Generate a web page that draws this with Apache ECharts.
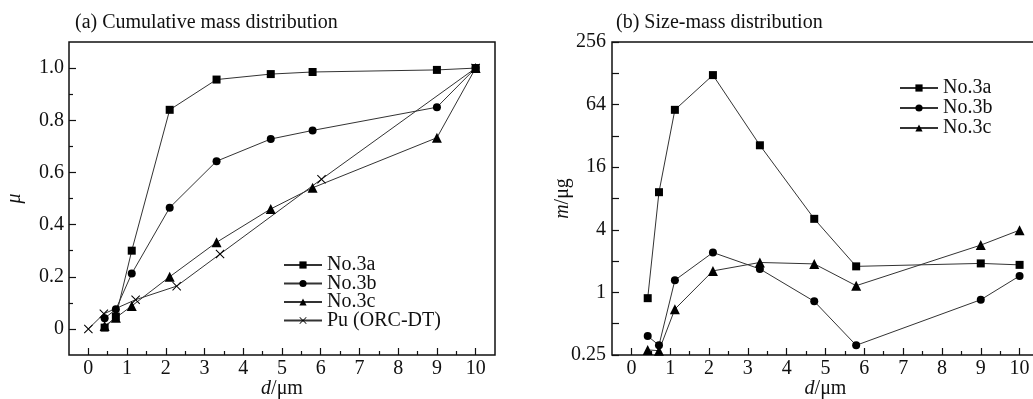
<!DOCTYPE html>
<html><head><meta charset="utf-8">
<script src="https://cdn.jsdelivr.net/npm/echarts@6/dist/echarts.min.js"></script>
<style>html,body{margin:0;padding:0;background:#fff}#c{width:1033px;height:399px}</style>
</head><body><div id="c"></div>
<script>
// ---- data ----
const sizes = [0.42, 0.71, 1.12, 2.1, 3.31, 4.71, 5.79, 9.0, 10.0];
const cumA = [0.005, 0.047, 0.30, 0.84, 0.956, 0.977, 0.985, 0.993, 1.0];
const cumB = [0.041, 0.075, 0.212, 0.465, 0.643, 0.728, 0.761, 0.85, 1.0];
const cumC = [0.011, 0.043, 0.088, 0.20, 0.332, 0.46, 0.541, 0.733, 1.0];
const puX = [0, 0.4, 1.22, 2.28, 3.4, 6.02, 10.0];
const puY = [0, 0.058, 0.112, 0.164, 0.287, 0.574, 1.0];
const massA = [0.88, 9.2, 57, 123, 26, 5.1, 1.78, 1.9, 1.84];
const massB = [0.38, 0.31, 1.31, 2.42, 1.68, 0.82, 0.31, 0.85, 1.44];
const massC = [0.28, 0.275, 0.69, 1.61, 1.94, 1.88, 1.16, 2.85, 3.97];
const xTickMajor = [0,1,2,3,4,5,6,7,8,9,10];
const xTickMinor = [0.5,1.5,2.5,3.5,4.5,5.5,6.5,7.5,8.5,9.5];
const yTicksA = [0, 0.2, 0.4, 0.6, 0.8, 1.0];
const yTicksAMinor = [0.1, 0.3, 0.5, 0.7, 0.9];
const yTicksB = [0.25, 1, 4, 16, 64, 256];
const yTicksBAll = [0.25, 0.5, 1, 2, 4, 8, 16, 32, 64, 128, 256];
const names = ['No.3a', 'No.3b', 'No.3c', 'Pu (ORC-DT)'];
const titleA = '(a) Cumulative mass distribution';
const titleB = '(b) Size-mass distribution';

const FONT = "'Liberation Serif','DejaVu Serif',serif";
const INK = '#111';
const pair = (xs, ys) => xs.map((x, i) => [x, ys[i]]);
const crossPath = 'path://M0,0.8L0.8,0L5,4.2L9.2,0L10,0.8L5.8,5L10,9.2L9.2,10L5,5.8L0.8,10L0,9.2L4.2,5Z';
const noLine = { show: false, onZero: false };

function xAxes(grid) {
  return [{
    gridIndex: grid, type: 'value', position: 'bottom', min: -0.5, max: 10.5, interval: 0.5,
    axisLine: noLine, splitLine: { show: false },
    axisTick: { inside: true, length: 7, customValues: xTickMajor, lineStyle: { color: INK, width: 1.2 } },
    axisLabel: { customValues: xTickMajor, margin: 4, color: INK, fontFamily: FONT, fontSize: 20 },
    name: '{i|d}/μm', nameLocation: 'middle', nameGap: 24, nameMoveOverlap: false,
    nameTextStyle: { color: INK, fontFamily: FONT, fontSize: 20, rich: { i: { fontStyle: 'italic', fontFamily: FONT, fontSize: 20, color: INK } } }
  }, {
    gridIndex: grid, type: 'value', position: 'bottom', min: -0.5, max: 10.5, interval: 0.5,
    axisLine: noLine, splitLine: { show: false }, axisLabel: { show: false },
    axisTick: { inside: true, length: 4, customValues: xTickMinor, lineStyle: { color: INK, width: 1.2 } }
  }];
}

const lineStyle = { color: '#333', width: 1 };
function ser(name, data, symbol, size, xi, yi) {
  return { name, type: 'line', data, symbol, symbolSize: size, xAxisIndex: xi, yAxisIndex: yi,
    lineStyle, itemStyle: { color: '#000' }, emphasis: { disabled: true }, z: 3 };
}

const gridBase = { show: true, borderColor: INK, borderWidth: 1.5, backgroundColor: 'transparent',
  containLabel: false, outerBoundsMode: 'none' };

const option = {
  animation: false,
  backgroundColor: '#fff',
  textStyle: { fontFamily: FONT },
  title: [
    { text: titleA, left: 70, top: 8, textStyle: { fontFamily: FONT, fontSize: 20, fontWeight: 'normal', color: INK } },
    { text: titleB, left: 611, top: 8, textStyle: { fontFamily: FONT, fontSize: 20, fontWeight: 'normal', color: INK } }
  ],
  grid: [
    Object.assign({ left: 69, top: 42, width: 426, height: 313 }, gridBase),
    Object.assign({ left: 612, top: 42, width: 427, height: 313 }, gridBase)
  ],
  xAxis: [...xAxes(0), ...xAxes(1)],
  yAxis: [{
    gridIndex: 0, type: 'value', position: 'left', min: -0.1, max: 1.1, interval: 0.1,
    axisLine: noLine, splitLine: { show: false },
    axisTick: { inside: true, length: 7, customValues: yTicksA, lineStyle: { color: INK, width: 1.2 } },
    axisLabel: { customValues: yTicksA, margin: 5, color: INK, fontFamily: FONT, fontSize: 20,
      formatter: v => (Math.abs(v) < 1e-9 ? '0' : v.toFixed(1)) },
    name: 'μ', nameLocation: 'middle', nameGap: 44, nameMoveOverlap: false,
    nameTextStyle: { color: INK, fontFamily: FONT, fontSize: 20, fontStyle: 'italic' }
  }, {
    gridIndex: 0, type: 'value', position: 'left', min: -0.1, max: 1.1, interval: 0.1,
    axisLine: noLine, splitLine: { show: false }, axisLabel: { show: false },
    axisTick: { inside: true, length: 4, customValues: yTicksAMinor, lineStyle: { color: INK, width: 1.2 } }
  }, {
    gridIndex: 1, type: 'log', position: 'left', logBase: 2, min: 0.25, max: 256,
    axisLine: noLine, splitLine: { show: false }, minorTick: { show: false },
    axisTick: { inside: true, length: 7, customValues: yTicksBAll, lineStyle: { color: INK, width: 1.2 } },
    axisLabel: { customValues: yTicksB, margin: 6, color: INK, fontFamily: FONT, fontSize: 20,
      formatter: v => (v < 1 ? String(Math.round(v * 100) / 100) : String(Math.round(v))) },
    name: '{i|m}/μg', nameLocation: 'middle', nameGap: 39, nameMoveOverlap: false,
    nameTextStyle: { color: INK, fontFamily: FONT, fontSize: 20, rich: { i: { fontStyle: 'italic', fontFamily: FONT, fontSize: 20, color: INK } } }
  }],
  legend: [{
    orient: 'vertical', left: 278, top: 250, itemWidth: 38, itemHeight: 9, itemGap: -1.5,
    data: names, textStyle: { fontFamily: FONT, fontSize: 20, color: INK },
    selectedMode: false
  }, {
    orient: 'vertical', left: 894, top: 73, itemWidth: 38, itemHeight: 9, itemGap: 0,
    data: names.slice(0, 3), textStyle: { fontFamily: FONT, fontSize: 20, color: INK },
    selectedMode: false
  }],
  series: [
    ser(names[0], pair(sizes, cumA), 'rect', 8, 0, 0),
    ser(names[1], pair(sizes, cumB), 'circle', 8, 0, 0),
    ser(names[2], pair(sizes, cumC), 'triangle', 10, 0, 0),
    ser(names[3], pair(puX, puY), crossPath, 9, 0, 0),
    ser(names[0], pair(sizes, massA), 'rect', 8, 2, 2),
    ser(names[1], pair(sizes, massB), 'circle', 8, 2, 2),
    ser(names[2], pair(sizes, massC), 'triangle', 10, 2, 2)
  ]
};
const chart = echarts.init(document.getElementById('c'), null, { renderer: 'canvas' });
chart.setOption(option);
</script></body></html>
